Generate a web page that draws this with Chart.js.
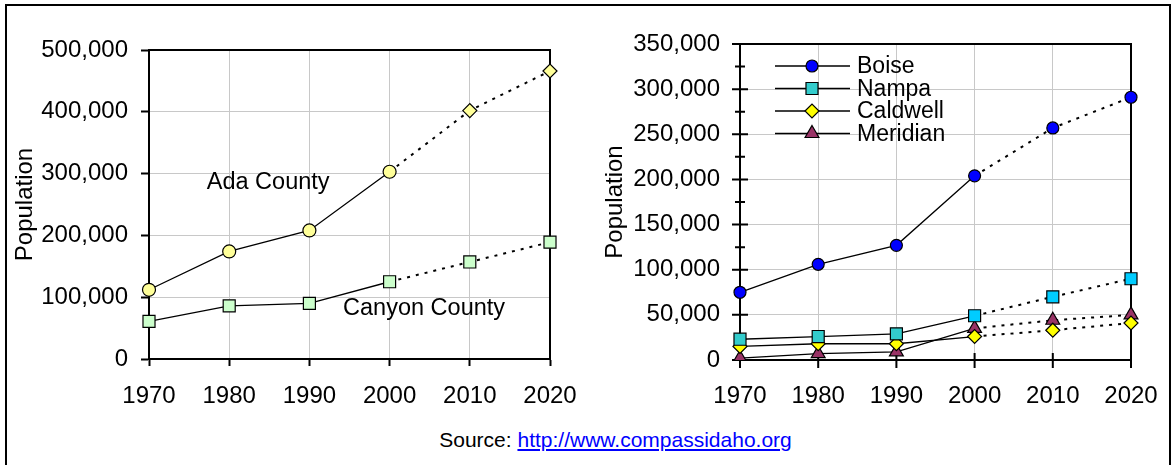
<!DOCTYPE html>
<html>
<head>
<meta charset="utf-8">
<script src="https://cdn.jsdelivr.net/npm/chart.js@4/dist/chart.umd.min.js"></script>
<style>
  body { margin: 0; background: #fff; width: 1172px; height: 465px; overflow: hidden; position: relative;
         font-family: "Liberation Sans", Arial, sans-serif; }
  #frame { position: absolute; left: 5px; top: 4px; width: 1162px; height: 480px; border: 2px solid #000; }
  .box { position: absolute; top: 0; height: 420px; }
  #leftBox { left: 0; width: 590px; }
  #rightBox { left: 590px; width: 582px; }
  #source { position: absolute; left: 0; width: 1231px; top: 428px; text-align: center; font-size: 21px; line-height: 24px; color: #000; }
  #source a { color: #0000ff; text-decoration: underline; }
</style>
</head>
<body>
<div id="frame"></div>
<div class="box" id="leftBox"><canvas id="countyChart"></canvas></div>
<div class="box" id="rightBox"><canvas id="cityChart"></canvas></div>
<div id="source">Source: <a href="http://www.compassidaho.org">http://www.compassidaho.org</a></div>

<script>
// dữ liệu
const years = ["1970", "1980", "1990", "2000", "2010", "2020"];
const projectedFrom = 3; // từ năm 2000 trở đi là nét chấm

const adaCounty = [112000, 174000, 208000, 303000, 402000, 466000];
const canyonCounty = [61000, 86000, 90000, 125000, 157000, 189000];

const boise = [75000, 106000, 127000, 204000, 257000, 291000];
const nampa = [23000, 26000, 29000, 49000, 70000, 90000];
const caldwell = [15000, 18000, 18000, 26000, 33000, 41000];
const meridian = [2000, 7000, 9000, 35000, 44000, 50000];

const countyTicks = [0, 100000, 200000, 300000, 400000, 500000];
const cityTicks = [0, 50000, 100000, 150000, 200000, 250000, 300000, 350000];
const cityMinorStep = 25000;

const countyNotes = [
  { text: "Ada County", at: 0.72, value: 285000 },
  { text: "Canyon County", at: 2.42, value: 82000 }
];

Chart.defaults.font.family = "'Liberation Sans', Arial, sans-serif";
Chart.defaults.font.size = 24;
Chart.defaults.color = "#000";

const dotted = ctx => ctx.p0DataIndex >= projectedFrom ? [3, 6] : undefined;
const dottedWidth = ctx => ctx.p0DataIndex >= projectedFrom ? 2 : 1.3;
const fmt = v => Number(v).toLocaleString("en-US");

function lineSet(label, data, color, style, radius) {
  return {
    label: label,
    data: data,
    borderColor: "#000",
    borderWidth: 1.3,
    pointStyle: style,
    pointRadius: radius,
    pointHoverRadius: radius,
    pointBackgroundColor: color,
    pointBorderColor: "#000",
    pointBorderWidth: 1.2,
    tension: 0,
    fill: false,
    segment: { borderDash: dotted, borderWidth: dottedWidth }
  };
}

// khung trên + phải của vùng vẽ
const plotFrame = {
  id: "plotFrame",
  beforeDatasetsDraw(chart) {
    const a = chart.chartArea, c = chart.ctx;
    c.save();
    c.strokeStyle = "#000";
    c.lineWidth = 2;
    c.beginPath();
    c.moveTo(a.left, a.top);
    c.lineTo(a.right, a.top);
    c.lineTo(a.right, a.bottom);
    c.stroke();
    c.restore();
  }
};

const notes = {
  id: "notes",
  afterDatasetsDraw(chart) {
    const c = chart.ctx, x = chart.scales.x, y = chart.scales.y;
    c.save();
    c.font = "23.5px 'Liberation Sans', Arial, sans-serif";
    c.fillStyle = "#000";
    c.textAlign = "left";
    c.textBaseline = "middle";
    countyNotes.forEach(n => c.fillText(n.text, x.getPixelForValue(n.at), y.getPixelForValue(n.value)));
    c.restore();
  }
};

// vạch chia cắt qua trục + vạch phụ
const crossTicks = {
  id: "crossTicks",
  beforeDatasetsDraw(chart) {
    const c = chart.ctx, x = chart.scales.x, y = chart.scales.y, a = chart.chartArea;
    c.save();
    c.strokeStyle = "#000";
    c.lineWidth = 2;
    c.beginPath();
    for (let v = 0; v <= y.max; v += cityMinorStep) {
      const py = y.getPixelForValue(v);
      const len = cityTicks.includes(v) ? 8 : 5;
      c.moveTo(a.left - len, py);
      c.lineTo(a.left + len, py);
    }
    years.forEach((_, i) => {
      const px = x.getPixelForValue(i);
      c.moveTo(px, a.bottom - 7);
      c.lineTo(px, a.bottom + 8);
    });
    c.stroke();
    c.restore();
  }
};

const cityLegend = {
  id: "cityLegend",
  afterDraw(chart) {
    const c = chart.ctx;
    const x0 = 185, x1 = 260, mx = 222, tx = 267, top = 66, step = 22.5;
    c.save();
    chart.data.datasets.forEach((ds, i) => {
      const yy = top + i * step;
      c.strokeStyle = "#000";
      c.lineWidth = 1.3;
      c.setLineDash([]);
      c.beginPath();
      c.moveTo(x0, yy);
      c.lineTo(x1, yy);
      c.stroke();
      const bg = Array.isArray(ds.pointBackgroundColor) ? ds.pointBackgroundColor[0] : ds.pointBackgroundColor;
      const st = Array.isArray(ds.pointStyle) ? ds.pointStyle[0] : ds.pointStyle;
      c.fillStyle = bg;
      c.lineWidth = 1.2;
      Chart.helpers.drawPoint(c, { pointStyle: st, radius: ds.pointRadius, rotation: 0, borderWidth: 1.2 }, mx, yy);
      c.fillStyle = "#000";
      c.font = "23px 'Liberation Sans', Arial, sans-serif";
      c.textBaseline = "middle";
      c.textAlign = "left";
      c.fillText(ds.label, tx, yy + 1);
    });
    c.restore();
  }
};

function baseOptions(tickValues, yScaleWidth, xScaleHeight, pad, cross) {
  return {
    responsive: true,
    maintainAspectRatio: false,
    animation: false,
    events: [],
    layout: { padding: pad },
    plugins: { legend: { display: false }, tooltip: { enabled: false } },
    scales: {
      x: {
        type: "category",
        offset: false,
        grid: { color: "#c8c8c8", lineWidth: 1, tickColor: "#000", tickLength: 7, tickWidth: 2, drawTicks: !cross },
        border: { color: "#000", width: 2 },
        ticks: { padding: cross ? 22 : 16, maxRotation: 0, autoSkip: false },
        afterFit: s => { s.height = xScaleHeight; s.paddingLeft = 0; s.paddingRight = 0; }
      },
      y: {
        min: 0,
        max: tickValues[tickValues.length - 1],
        grid: { color: "#c8c8c8", lineWidth: 1, tickColor: "#000", tickLength: 8, tickWidth: 2, drawTicks: !cross },
        border: { color: "#000", width: 2 },
        title: { display: true, text: "Population", font: { size: 24 }, padding: { top: 3, bottom: 0 } },
        ticks: { padding: cross ? 20 : 13, callback: v => fmt(v) },
        afterBuildTicks: s => { s.ticks = tickValues.map(v => ({ value: v })); },
        afterFit: s => { s.width = yScaleWidth; }
      }
    }
  };
}

new Chart(document.getElementById("countyChart"), {
  type: "line",
  data: {
    labels: years,
    datasets: [
      lineSet("Ada County", adaCounty, "#ffff99",
        years.map((_, i) => i > projectedFrom ? "rectRot" : "circle"),
        years.map((_, i) => i > projectedFrom ? 7 : 6.5)),
      lineSet("Canyon County", canyonCounty, "#ccffcc", "rect", 8.5)
    ]
  },
  options: baseOptions(countyTicks, 141, 61, { top: 50, left: 8, right: 40, bottom: 0 }, false),
  plugins: [plotFrame, notes]
});

new Chart(document.getElementById("cityChart"), {
  type: "line",
  data: {
    labels: years,
    datasets: [
      lineSet("Boise", boise, "#0000ff", "circle", 6),
      lineSet("Nampa", nampa, years.map((_, i) => i >= projectedFrom ? "#00ccff" : "#33cccc"), "rect", 8.5),
      lineSet("Caldwell", caldwell, "#ffff00", "rectRot", 7),
      lineSet("Meridian", meridian, "#993366", "triangle", 8)
    ]
  },
  options: baseOptions(cityTicks, 142, 60, { top: 44, left: 8, right: 41, bottom: 0 }, true),
  plugins: [plotFrame, crossTicks, cityLegend]
});
</script>
</body>
</html>
